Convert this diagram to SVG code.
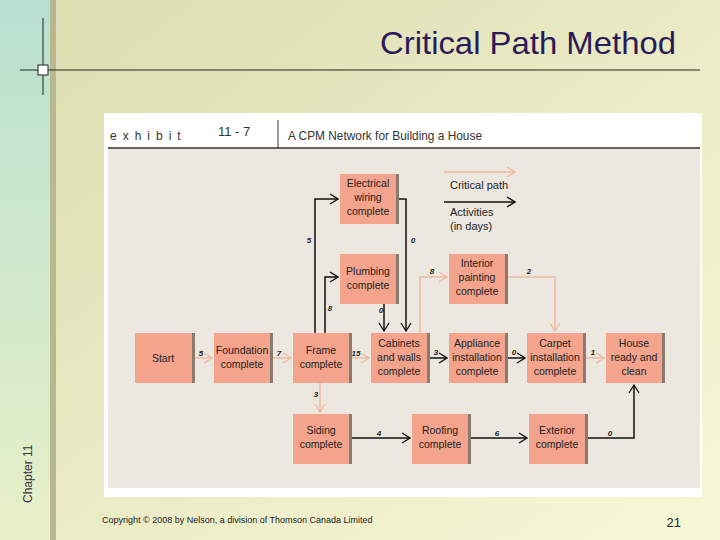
<svg xmlns="http://www.w3.org/2000/svg" width="720" height="540" viewBox="0 0 720 540">
<defs>
<linearGradient id="bg" x1="0" y1="0" x2="1" y2="1"><stop offset="0" stop-color="#dcdcb0"/><stop offset="1" stop-color="#f8f8d8"/></linearGradient>
<linearGradient id="side" x1="0" y1="0" x2="0" y2="1"><stop offset="0" stop-color="#b8e0d0"/><stop offset="1" stop-color="#e8f0c8"/></linearGradient>
<marker id="ab" markerWidth="10" markerHeight="12" refX="9" refY="6" orient="auto" markerUnits="userSpaceOnUse"><path d="M1,1 L9,6 L1,11" fill="none" stroke="#111" stroke-width="1.3"/></marker>
<marker id="ar" markerWidth="10" markerHeight="12" refX="9" refY="6" orient="auto" markerUnits="userSpaceOnUse"><path d="M1,1 L9,6 L1,11" fill="none" stroke="#f0b8a0" stroke-width="1.3"/></marker>
<style>
.n rect.b{fill:#f4a48c}
.n rect.s{fill:#8a7a70}
.n text{font-family:"Liberation Sans",sans-serif;font-size:10.5px;fill:#222;text-anchor:middle}
.k{fill:none;stroke:#111;stroke-width:1.5;marker-end:url(#ab)}
.c{fill:none;stroke:#f0b8a0;stroke-width:1.5;marker-end:url(#ar)}
.l{font-family:"Liberation Sans",sans-serif;font-size:8px;font-style:italic;font-weight:bold;fill:#222;text-anchor:middle}
</style>
</defs>
<rect width="720" height="540" fill="url(#bg)"/>
<rect x="0" y="0" width="50" height="540" fill="url(#side)"/>
<rect x="50" y="0" width="6" height="540" fill="#b8b890"/>
<line x1="43" y1="18" x2="43" y2="95" stroke="#222" stroke-width="1"/>
<line x1="20" y1="70" x2="700" y2="70" stroke="#222" stroke-width="1"/>
<rect x="38" y="65" width="10" height="10" fill="#fff" stroke="#222"/>
<text x="32" y="503" transform="rotate(-90 32 503)" font-family="Liberation Sans,sans-serif" font-size="12" fill="#334">Chapter 11</text>
<text x="380" y="54" textLength="296" lengthAdjust="spacingAndGlyphs" font-family="Liberation Sans,sans-serif" font-size="32" fill="#2a1a5a">Critical Path Method</text>
<rect x="104" y="113" width="598" height="384" fill="#fff"/>
<rect x="108" y="148" width="592" height="340" fill="#ece8df"/>
<line x1="108" y1="148" x2="700" y2="148" stroke="#333" stroke-width="1.5"/>
<line x1="278" y1="120" x2="278" y2="148" stroke="#333"/>
<text x="110" y="140" font-family="Liberation Sans,sans-serif" font-size="12" letter-spacing="6" fill="#333">exhibit</text>
<text x="218" y="136" font-family="Liberation Sans,sans-serif" font-size="13" fill="#333">11 - 7</text>
<text x="288" y="140" textLength="194" lengthAdjust="spacingAndGlyphs" font-family="Liberation Sans,sans-serif" font-size="13" fill="#333">A CPM Network for Building a House</text>
<g id="connectors">
<path class="c" d="M192,358 H212"/>
<path class="c" d="M270,358 H291"/>
<path class="c" d="M348,358 H369"/>
<path class="c" d="M320,383 V412"/>
<path class="c" d="M420,333 V277 H447"/>
<path class="c" d="M505,277 H555 V331"/>
<path class="c" d="M583,358 H604"/>
<path class="k" d="M315,333 V199 H338"/>
<path class="k" d="M325,333 V277 H338"/>
<path class="k" d="M396,199 H406 V331"/>
<path class="k" d="M384,304 V331"/>
<path class="k" d="M427,358 H447"/>
<path class="k" d="M505,358 H525"/>
<path class="k" d="M348,438 H410"/>
<path class="k" d="M468,438 H527"/>
<path class="k" d="M585,438 H634 V385"/>
<path class="c" d="M444,172 H515"/>
<path class="k" d="M444,202 H515"/>
</g>
<g id="labels">
<text class="l" x="201" y="356">5</text><text class="l" x="279" y="356">7</text><text class="l" x="356" y="356">15</text>
<text class="l" x="309" y="243">5</text><text class="l" x="330" y="311">8</text><text class="l" x="413" y="243">0</text><text class="l" x="381" y="313">0</text>
<text class="l" x="432" y="274">8</text><text class="l" x="529" y="274">2</text><text class="l" x="436" y="355">3</text><text class="l" x="514" y="355">0</text><text class="l" x="593" y="355">1</text>
<text class="l" x="316" y="397">3</text><text class="l" x="379" y="436">4</text><text class="l" x="497" y="436">6</text><text class="l" x="610" y="436">0</text>
<text x="450" y="189" font-family="Liberation Sans,sans-serif" font-size="11" fill="#222">Critical path</text>
<text x="450" y="216" font-family="Liberation Sans,sans-serif" font-size="11" fill="#222">Activities</text>
<text x="450" y="230" font-family="Liberation Sans,sans-serif" font-size="11" fill="#222">(in days)</text>
</g>
<g id="start" class="n"><rect class="s" x="135" y="333" width="60" height="50"/><rect class="b" x="135" y="333" width="57" height="50"/><text x="163" y="362">Start</text></g>
<g id="foundation" class="n"><rect class="s" x="214" y="333" width="59" height="50"/><rect class="b" x="214" y="333" width="56" height="50"/><text x="242" y="354">Foundation</text><text x="242" y="368">complete</text></g>
<g id="frame" class="n"><rect class="s" x="293" y="333" width="59" height="50"/><rect class="b" x="293" y="333" width="56" height="50"/><text x="321" y="354">Frame</text><text x="321" y="368">complete</text></g>
<g id="cabinets" class="n"><rect class="s" x="371" y="333" width="59" height="50"/><rect class="b" x="371" y="333" width="56" height="50"/><text x="399" y="347">Cabinets</text><text x="399" y="361">and walls</text><text x="399" y="375">complete</text></g>
<g id="appliance" class="n"><rect class="s" x="449" y="333" width="59" height="50"/><rect class="b" x="449" y="333" width="56" height="50"/><text x="477" y="347">Appliance</text><text x="477" y="361">installation</text><text x="477" y="375">complete</text></g>
<g id="carpet" class="n"><rect class="s" x="527" y="333" width="59" height="50"/><rect class="b" x="527" y="333" width="56" height="50"/><text x="555" y="347">Carpet</text><text x="555" y="361">installation</text><text x="555" y="375">complete</text></g>
<g id="house" class="n"><rect class="s" x="606" y="333" width="59" height="50"/><rect class="b" x="606" y="333" width="56" height="50"/><text x="634" y="347">House</text><text x="634" y="361">ready and</text><text x="634" y="375">clean</text></g>
<g id="electrical" class="n"><rect class="s" x="340" y="174" width="59" height="50"/><rect class="b" x="340" y="174" width="56" height="50"/><text x="368" y="187">Electrical</text><text x="368" y="201">wiring</text><text x="368" y="215">complete</text></g>
<g id="plumbing" class="n"><rect class="s" x="340" y="254" width="59" height="50"/><rect class="b" x="340" y="254" width="56" height="50"/><text x="368" y="275">Plumbing</text><text x="368" y="289">complete</text></g>
<g id="interior" class="n"><rect class="s" x="449" y="254" width="59" height="50"/><rect class="b" x="449" y="254" width="56" height="50"/><text x="477" y="267">Interior</text><text x="477" y="281">painting</text><text x="477" y="295">complete</text></g>
<g id="siding" class="n"><rect class="s" x="293" y="414" width="59" height="50"/><rect class="b" x="293" y="414" width="56" height="50"/><text x="321" y="434">Siding</text><text x="321" y="448">complete</text></g>
<g id="roofing" class="n"><rect class="s" x="412" y="414" width="59" height="50"/><rect class="b" x="412" y="414" width="56" height="50"/><text x="440" y="434">Roofing</text><text x="440" y="448">complete</text></g>
<g id="exterior" class="n"><rect class="s" x="529" y="414" width="59" height="50"/><rect class="b" x="529" y="414" width="56" height="50"/><text x="557" y="434">Exterior</text><text x="557" y="448">complete</text></g>
<text x="102" y="523" font-family="Liberation Sans,sans-serif" font-size="9" fill="#222">Copyright © 2008 by Nelson, a division of Thomson Canada Limited</text>
<text x="681" y="527" text-anchor="end" font-family="Liberation Sans,sans-serif" font-size="13" fill="#222">21</text>
</svg>
